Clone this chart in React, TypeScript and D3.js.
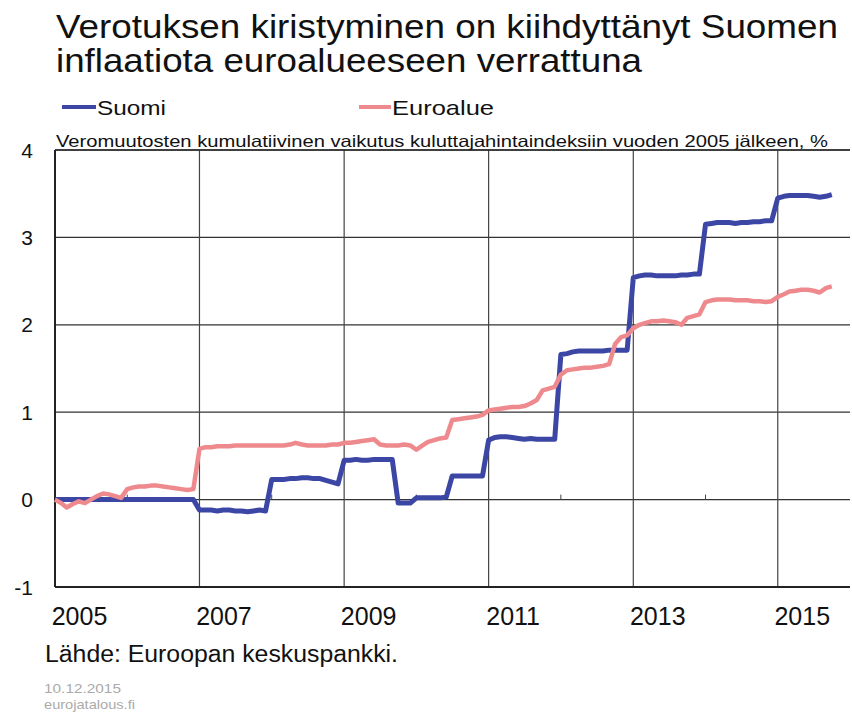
import React from 'react';
import * as d3 from 'd3';

// monthly, Jan 2005 .. Oct 2015
const startYear = 2005;
const suomi = [
  0, 0, 0, 0, 0, 0, 0, 0, 0, 0, 0, 0,
  0, 0, 0, 0, 0, 0, 0, 0, 0, 0, 0, 0,
  -0.12, -0.12, -0.12, -0.13, -0.12, -0.12, -0.13, -0.13, -0.14, -0.13, -0.12, -0.13,
  0.23, 0.23, 0.23, 0.24, 0.24, 0.25, 0.25, 0.24, 0.24, 0.22, 0.2, 0.18,
  0.45, 0.45, 0.46, 0.45, 0.45, 0.46, 0.46, 0.46, 0.46, -0.04, -0.04, -0.04,
  0.02, 0.02, 0.02, 0.02, 0.02, 0.03, 0.27, 0.27, 0.27, 0.27, 0.27, 0.27,
  0.68, 0.71, 0.72, 0.72, 0.71, 0.7, 0.69, 0.7, 0.69, 0.69, 0.69, 0.69,
  1.66, 1.67, 1.69, 1.7, 1.7, 1.7, 1.7, 1.7, 1.71, 1.71, 1.71, 1.71,
  2.54, 2.56, 2.57, 2.57, 2.56, 2.56, 2.56, 2.56, 2.57, 2.57, 2.58, 2.58,
  3.15, 3.16, 3.17, 3.17, 3.17, 3.16, 3.17, 3.17, 3.18, 3.18, 3.19, 3.19,
  3.45, 3.47, 3.48, 3.48, 3.48, 3.48, 3.47, 3.46, 3.47, 3.49,
];
const euroalue = [
  0, -0.04, -0.09, -0.05, -0.02, -0.04, 0, 0.04, 0.07, 0.06, 0.04, 0.02,
  0.12, 0.14, 0.15, 0.15, 0.16, 0.16, 0.15, 0.14, 0.13, 0.12, 0.11, 0.12,
  0.58, 0.6, 0.6, 0.61, 0.61, 0.61, 0.62, 0.62, 0.62, 0.62, 0.62, 0.62,
  0.62, 0.62, 0.62, 0.63, 0.65, 0.63, 0.62, 0.62, 0.62, 0.62, 0.63, 0.63,
  0.65, 0.65, 0.66, 0.67, 0.68, 0.69, 0.63, 0.62, 0.62, 0.62, 0.63, 0.62,
  0.57, 0.62, 0.66, 0.68, 0.7, 0.71, 0.91, 0.92, 0.93, 0.94, 0.95, 0.97,
  1.02, 1.03, 1.04, 1.05, 1.06, 1.06, 1.07, 1.1, 1.14, 1.25, 1.27, 1.29,
  1.43, 1.48, 1.49, 1.5, 1.51, 1.51, 1.52, 1.53, 1.55, 1.78, 1.86, 1.88,
  1.96, 2.0, 2.02, 2.04, 2.04, 2.05, 2.04, 2.03, 2.0, 2.08, 2.1, 2.12,
  2.26, 2.28, 2.29, 2.29, 2.29, 2.28, 2.28, 2.28, 2.27, 2.27, 2.26, 2.27,
  2.32, 2.35, 2.38, 2.39, 2.4, 2.4, 2.39, 2.37, 2.42, 2.44,
];
const yTicks = [-1, 0, 1, 2, 3, 4];
const gridYears = [2007, 2009, 2011, 2013, 2015];
const labelYears = [2005, 2007, 2009, 2011, 2013, 2015];
const minorYears = [2006, 2008, 2010, 2012, 2014];

const titleLines = [
  'Verotuksen kiristyminen on kiihdyttänyt Suomen',
  'inflaatiota euroalueeseen  verrattuna',
];
const subtitle = 'Veromuutosten kumulatiivinen vaikutus kuluttajahintaindeksiin vuoden 2005 jälkeen, %';
const source = 'Lähde: Euroopan keskuspankki.';

const BLUE = '#3c46a5';
const PINK = '#ee8a8d';
const FONT = '"Liberation Sans", Arial, sans-serif';

const W = 852;
const H = 713;
const plot = { left: 55, right: 850, top: 150, bottom: 587 };

const month = (i: number) => new Date(Date.UTC(startYear, i, 1));
const jan = (y: number) => new Date(Date.UTC(y, 0, 1));

export default function App() {
  const x = d3.scaleUtc().domain([jan(2005), jan(2016)]).range([plot.left, plot.right]);
  const y = d3.scaleLinear().domain([-1, 4]).range([plot.bottom, plot.top]);
  const line = d3.line<number>()
    .x((_, i) => x(month(i)))
    .y(d => y(d));

  return (
    <svg width={W} height={H} style={{ position: 'absolute', left: 0, top: 0, background: '#fff' }} fontFamily={FONT}>
      <text x={56} y={37.5} fontSize={34} fill="#111" textLength={782} lengthAdjust="spacingAndGlyphs">{titleLines[0]}</text>
      <text x={56} y={72} fontSize={34} fill="#111" textLength={586} lengthAdjust="spacingAndGlyphs">{titleLines[1]}</text>

      <line x1={62} x2={96} y1={107} y2={107} stroke={BLUE} strokeWidth={4} />
      <text x={97} y={115} fontSize={21} fill="#111" textLength={69} lengthAdjust="spacingAndGlyphs">Suomi</text>
      <line x1={359} x2={391} y1={107} y2={107} stroke={PINK} strokeWidth={4} />
      <text x={392} y={115} fontSize={21} fill="#111" textLength={102} lengthAdjust="spacingAndGlyphs">Euroalue</text>

      <text x={56} y={146.5} fontSize={16.5} fill="#111" textLength={772} lengthAdjust="spacingAndGlyphs">{subtitle}</text>

      {yTicks.map(t => (
        <line key={'h' + t} x1={plot.left} x2={plot.right} y1={y(t)} y2={y(t)} stroke="#333" strokeWidth={1.2} />
      ))}
      {gridYears.map(yr => (
        <line key={'v' + yr} x1={x(jan(yr))} x2={x(jan(yr))} y1={plot.top} y2={plot.bottom} stroke="#444" strokeWidth={1.2} />
      ))}
      {minorYears.map(yr => (
        <line key={'m' + yr} x1={x(jan(yr))} x2={x(jan(yr))} y1={y(0)} y2={y(0) - 5} stroke="#444" strokeWidth={1} />
      ))}
      <line x1={plot.left} x2={plot.left} y1={plot.top} y2={plot.bottom} stroke="#222" strokeWidth={2} />
      <line x1={plot.left} x2={plot.right} y1={plot.top} y2={plot.top} stroke="#222" strokeWidth={1.6} />
      <line x1={plot.left} x2={plot.right} y1={plot.bottom} y2={plot.bottom} stroke="#222" strokeWidth={2} />

      <path d={line(suomi) ?? ''} fill="none" stroke={BLUE} strokeWidth={5} strokeLinejoin="round" />
      <path d={line(euroalue) ?? ''} fill="none" stroke={PINK} strokeWidth={4.5} strokeLinejoin="round" />

      {yTicks.map(t => (
        <text key={'yl' + t} x={33} y={y(t) + 7.5} fontSize={21} textAnchor="end" fill="#111">{t}</text>
      ))}
      {labelYears.map(yr => (
        <text key={'xl' + yr} x={x(jan(yr)) + 24.5} y={625} fontSize={25} textAnchor="middle" fill="#111">{yr}</text>
      ))}

      <text x={45} y={662} fontSize={23.5} fill="#111" textLength={353} lengthAdjust="spacingAndGlyphs">{source}</text>
      <text x={44} y={693} fontSize={13} fill="#aaa" textLength={77} lengthAdjust="spacingAndGlyphs">10.12.2015</text>
      <text x={44} y={709} fontSize={13} fill="#aaa" textLength={91} lengthAdjust="spacingAndGlyphs">eurojatalous.fi</text>
    </svg>
  );
}
